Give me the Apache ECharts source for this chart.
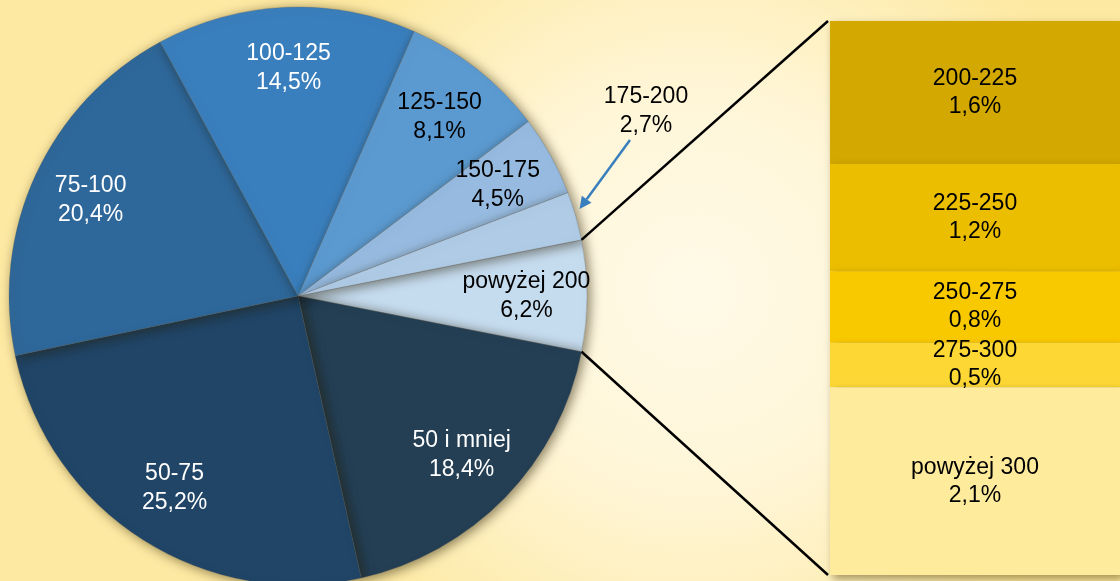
<!DOCTYPE html>
<html>
<head>
<meta charset="utf-8">
<script src="https://cdn.jsdelivr.net/npm/echarts@6/dist/echarts.min.js"></script>
<style>
    html, body { margin: 0; padding: 0; }
    #chart { width: 1120px; height: 581px; }
</style>
</head>
<body>
<div id="chart"></div>
<script>
var pieNames = ['powyżej 200', '50 i mniej', '50-75', '75-100', '100-125', '125-150', '150-175', '175-200'];
var pieValues = [6.2, 18.4, 25.2, 20.4, 14.5, 8.1, 4.5, 2.7];
var pieColors = ['#c5dbee', '#243f54', '#214566', '#2e6799', '#3a7fbd', '#5b9ad0', '#97bbe0', '#b0cbe6'];
var pieLabelColors = ['#000', '#fff', '#fff', '#fff', '#fff', '#000', '#000', '#000'];

var barNames = ['200-225', '225-250', '250-275', '275-300', 'powyżej 300'];
var barValues = [1.6, 1.2, 0.8, 0.5, 2.1];
var barColors = ['#d3a800', '#ebbe00', '#f9c900', '#fdd834', '#feeb9c'];

var center = [298, 296];
var radius = 289;
var startAngle = 11.2;
var fontFamily = 'Liberation Sans, Arial, sans-serif';

function fmt(v) {
    return v.toFixed(1).replace('.', ',') + '%';
}

var chartDom = document.getElementById('chart');
var chartInstance = echarts.init(chartDom);

function buildOption() {
    var pieData = [];
    var labelData = [];
    for (var i = 0; i < pieNames.length; i++) {
        pieData.push({
            name: pieNames[i],
            value: pieValues[i],
            itemStyle: { color: pieColors[i] }
        });
        labelData.push({
            name: pieNames[i],
            value: pieValues[i],
            label: { show: i !== 7, color: pieLabelColors[i] }
        });
    }

    var barSeries = [];
    for (var j = 0; j < barNames.length; j++) {
        barSeries.push({
            name: barNames[j],
            type: 'bar',
            stack: 'rest',
            barWidth: '100%',
            data: [barValues[j]],
            itemStyle: {
                color: barColors[j],
                shadowBlur: 8,
                shadowOffsetX: 3,
                shadowOffsetY: 4,
                shadowColor: 'rgba(80,60,0,0.5)'
            },
            label: {
                show: true,
                position: 'inside',
                color: '#000',
                fontSize: 23,
                lineHeight: 28,
                fontFamily: fontFamily,
                formatter: (function (n) {
                    return function (p) { return n + '\n' + fmt(p.value); };
                })(barNames[j])
            }
        });
    }

    return {
        backgroundColor: {
            type: 'radial', x: 0.62, y: 0.5, r: 0.75,
            colorStops: [
                { offset: 0, color: '#fffae8' },
                { offset: 0.45, color: '#fff6d8' },
                { offset: 1, color: '#fde9a2' }
            ]
        },
        animation: false,
        grid: { left: 830, top: 21, width: 300, height: 554 },
        xAxis: { type: 'category', data: [''], show: false },
        yAxis: { type: 'value', min: 0, max: 6.2, inverse: true, show: false },
        series: [
            {
                type: 'pie',
                center: center,
                radius: radius,
                startAngle: startAngle,
                clockwise: true,
                silent: true,
                label: { show: false },
                labelLine: { show: false },
                itemStyle: {
                    borderColor: 'rgba(90,90,90,0.5)',
                    borderWidth: 0.5,
                    shadowBlur: 12,
                    shadowOffsetX: 3,
                    shadowOffsetY: 2,
                    shadowColor: 'rgba(40,30,0,0.55)'
                },
                data: pieData
            },
            {
                // transparent ring, only used to put the labels at ~0.78 of the radius
                type: 'pie',
                center: center,
                radius: [radius * 0.56, radius],
                startAngle: startAngle,
                clockwise: true,
                silent: true,
                itemStyle: { color: 'rgba(0,0,0,0)' },
                label: {
                    position: 'inside',
                    fontSize: 23,
                    lineHeight: 29,
                    fontFamily: fontFamily,
                    formatter: function (p) { return p.name + '\n' + fmt(p.value); }
                },
                labelLine: { show: false },
                data: labelData
            }
        ].concat(barSeries)
    };
}

chartInstance.setOption(buildOption());

// connector lines and the outside label of the small slice
function addGraphics() {
    var total = 0;
    for (var i = 0; i < pieValues.length; i++) total += pieValues[i];
    var a0 = startAngle * Math.PI / 180;
    var a1 = (startAngle - pieValues[0] / total * 360) * Math.PI / 180;
    var p0 = [center[0] + radius * Math.cos(a0), center[1] - radius * Math.sin(a0)];
    var p1 = [center[0] + radius * Math.cos(a1), center[1] - radius * Math.sin(a1)];
    var barTop = chartInstance.convertToPixel({ gridIndex: 0 }, [0, 0]);
    var barBottom = chartInstance.convertToPixel({ gridIndex: 0 }, [0, 6.2]);
    var gx = 828;

    // arrow pointing at 175-200
    var aMid = (startAngle + pieValues[7] / total * 360 / 2) * Math.PI / 180;
    var tip = [center[0] + (radius + 4) * Math.cos(aMid), center[1] - (radius + 4) * Math.sin(aMid) - 6];
    var tail = [630, 140];
    var ang = Math.atan2(tip[1] - tail[1], tip[0] - tail[0]);
    var hl = 12, hw = 6;
    var base = [tip[0] - hl * Math.cos(ang), tip[1] - hl * Math.sin(ang)];
    var head = [
        tip,
        [base[0] + hw * Math.sin(ang), base[1] - hw * Math.cos(ang)],
        [base[0] - hw * Math.sin(ang), base[1] + hw * Math.cos(ang)]
    ];

    chartInstance.setOption({
        graphic: [
            { type: 'line', shape: { x1: p0[0], y1: p0[1], x2: gx, y2: barTop[1] }, style: { stroke: '#000', lineWidth: 2.5 }, z: 100 },
            { type: 'line', shape: { x1: p1[0], y1: p1[1], x2: gx, y2: barBottom[1] }, style: { stroke: '#000', lineWidth: 2.5 }, z: 100 },
            { type: 'line', shape: { x1: tail[0], y1: tail[1], x2: base[0], y2: base[1] }, style: { stroke: '#3a7fbd', lineWidth: 2.5 }, z: 100 },
            { type: 'polygon', shape: { points: head }, style: { fill: '#3a7fbd' }, z: 100 },
            {
                type: 'text', x: 646, y: 82, z: 100,
                style: {
                    text: pieNames[7] + '\n' + fmt(pieValues[7]),
                    fill: '#000',
                    font: '23px ' + fontFamily,
                    lineHeight: 29,
                    align: 'center',
                    verticalAlign: 'top'
                }
            }
        ]
    });
}
addGraphics();
</script>
</body>
</html>
